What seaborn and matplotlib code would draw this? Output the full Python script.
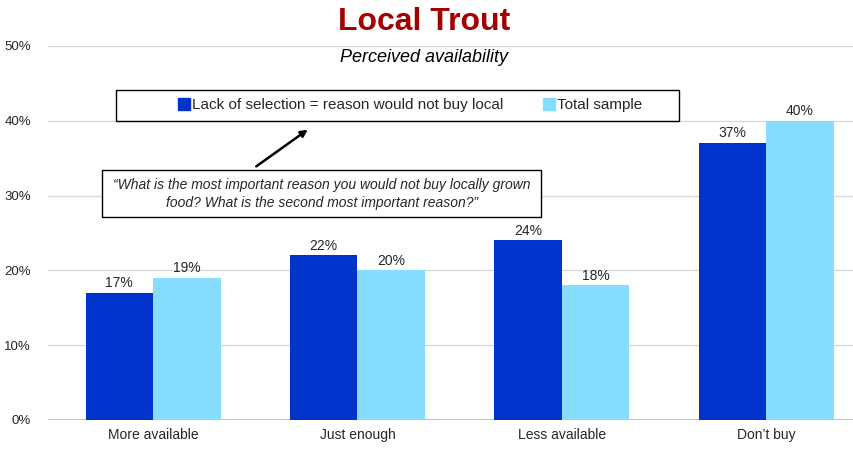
import numpy as np
import pandas as pd
import matplotlib
matplotlib.use("Agg")
import matplotlib.pyplot as plt
import seaborn as sns
from matplotlib.patches import Rectangle, FancyArrowPatch
from matplotlib.lines import Line2D

categories = ["More available", "Just enough", "Less available", "Don\u2019t buy"]
series_names = ["Lack of selection = reason would not buy local", "Total sample"]
lack_selection = [17, 22, 24, 37]
total_sample = [19, 20, 18, 40]
colors = ["#0033CC", "#85DDFF"]

df = pd.DataFrame({
    "category": categories * 2,
    "series": [series_names[0]] * 4 + [series_names[1]] * 4,
    "value": lack_selection + total_sample,
})

sns.set_style("white")
plt.rcParams["font.family"] = ["Liberation Sans Narrow", "Liberation Sans", "DejaVu Sans"]

fig = plt.figure(figsize=(8.54, 4.49), dpi=100)
ax = fig.add_axes([0.056, 0.0646, 0.944, 0.833])

sns.barplot(data=df, x="category", y="value", hue="series", palette=colors,
            width=0.66, saturation=1, ax=ax, legend=False, linewidth=0,
            edgecolor="none")

for cont in ax.containers:
    ax.bar_label(cont, fmt="%d%%", fontsize=10, padding=2)

ax.set_ylim(0, 50)
ax.set_xlim(-0.515, 3.43)
ax.set_yticks(range(0, 51, 10))
ax.set_yticklabels([f"{t}%" for t in range(0, 51, 10)], fontsize=9.5)
ax.tick_params(axis="x", labelsize=10, length=0, pad=6)
ax.tick_params(axis="y", length=0, pad=12)
ax.set_xlabel("")
ax.set_ylabel("")
ax.yaxis.grid(True, color="#d9d9d9", linewidth=1)
ax.set_axisbelow(True)
for s in ax.spines.values():
    s.set_visible(False)
ax.axhline(0, color="#bfbfbf", linewidth=1.5, zorder=0)

# titles
fig.text(0.497, 0.952, "Local Trout", ha="center", va="center",
         fontsize=23, fontweight="bold", color="#A50000")
fig.text(0.497, 0.873, "Perceived availability", ha="center", va="center",
         fontsize=13, style="italic", color="black")

# legend box
W, H = 854, 449
def fx(px):
    return px / W
def fy(py):
    return 1 - py / H

fig.patches.append(Rectangle((fx(116), fy(121)), fx(679) - fx(116), fy(90) - fy(121),
                             transform=fig.transFigure, fill=False, edgecolor="black",
                             linewidth=1, zorder=5))
handles = [Line2D([], [], marker="s", linestyle="", markersize=8,
                  markerfacecolor=c, markeredgecolor=c) for c in colors]
fig.legend(handles, series_names, loc="center", bbox_to_anchor=(fx(410), fy(105)),
           ncol=2, frameon=False, fontsize=11, handletextpad=0.1,
           columnspacing=2.6, handlelength=0.8)

# question box
fig.patches.append(Rectangle((fx(102), fy(217)), fx(541) - fx(102), fy(170) - fy(217),
                             transform=fig.transFigure, fill=True, facecolor="white",
                             edgecolor="black", linewidth=1, zorder=5))
fig.text(fx(322), fy(194),
         "\u201cWhat is the most important reason you would not buy locally grown\n"
         "food? What is the second most important reason?\u201d",
         ha="center", va="center", fontsize=10, style="italic",
         linespacing=1.3, zorder=6)

fig.patches.append(FancyArrowPatch((fx(254), fy(168)), (fx(310), fy(128)),
                                   transform=fig.transFigure, arrowstyle="-|>",
                                   mutation_scale=10, color="black", linewidth=1.8,
                                   zorder=6))

fig.savefig("out.png", dpi=100)
